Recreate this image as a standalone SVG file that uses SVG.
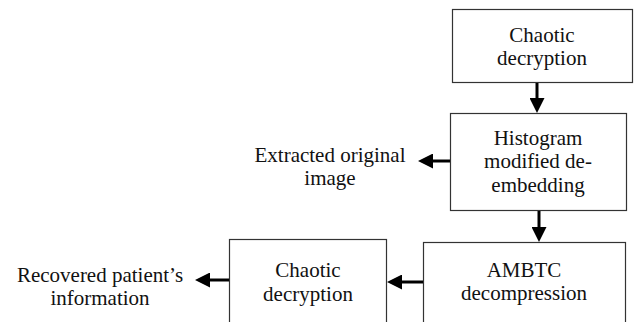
<svg xmlns="http://www.w3.org/2000/svg" width="640" height="322" viewBox="0 0 640 322">
<defs>
<marker id="ah" markerUnits="userSpaceOnUse" markerWidth="16" markerHeight="15" refX="5" refY="7.5" orient="auto">
<path d="M0,0 L15,7.5 L0,15 z" fill="#000"/>
</marker>
</defs>
<style>
.box{fill:#fff;stroke:#333;stroke-width:1.2}
.t{font-family:'Liberation Serif',serif;font-size:21px;fill:#111;text-anchor:middle}
.c{stroke:#000;stroke-width:3;fill:none;marker-end:url(#ah)}
</style>
<rect width="640" height="322" fill="#fff"/>
<g id="chaotic1">
<rect class="box" x="452.5" y="9.5" width="180" height="73"/>
<text class="t" x="542" y="42">Chaotic</text>
<text class="t" x="542" y="65">decryption</text>
</g>
<g id="histogram">
<rect class="box" x="450.5" y="113.5" width="176" height="97"/>
<text class="t" x="538" y="145">Histogram</text>
<text class="t" x="538" y="168">modified de-</text>
<text class="t" x="538" y="192">embedding</text>
</g>
<g id="extracted">
<text class="t" x="330" y="162">Extracted original</text>
<text class="t" x="330" y="185">image</text>
</g>
<g id="ambtc">
<rect class="box" x="423.5" y="242.5" width="202" height="100"/>
<text class="t" x="524" y="277">AMBTC</text>
<text class="t" x="524" y="300">decompression</text>
</g>
<g id="chaotic2">
<rect class="box" x="229.5" y="239.5" width="157" height="100"/>
<text class="t" x="308" y="277">Chaotic</text>
<text class="t" x="308" y="301">decryption</text>
</g>
<g id="recovered">
<text class="t" x="100" y="282">Recovered patient’s</text>
<text class="t" x="100" y="305">information</text>
</g>
<g id="connectors">
<line class="c" x1="537" y1="83" x2="537" y2="103"/>
<line class="c" x1="450" y1="161" x2="428" y2="161"/>
<line class="c" x1="539" y1="211" x2="539" y2="232"/>
<line class="c" x1="423" y1="282" x2="397" y2="282"/>
<line class="c" x1="229" y1="280" x2="205" y2="280"/>
</g>
</svg>
